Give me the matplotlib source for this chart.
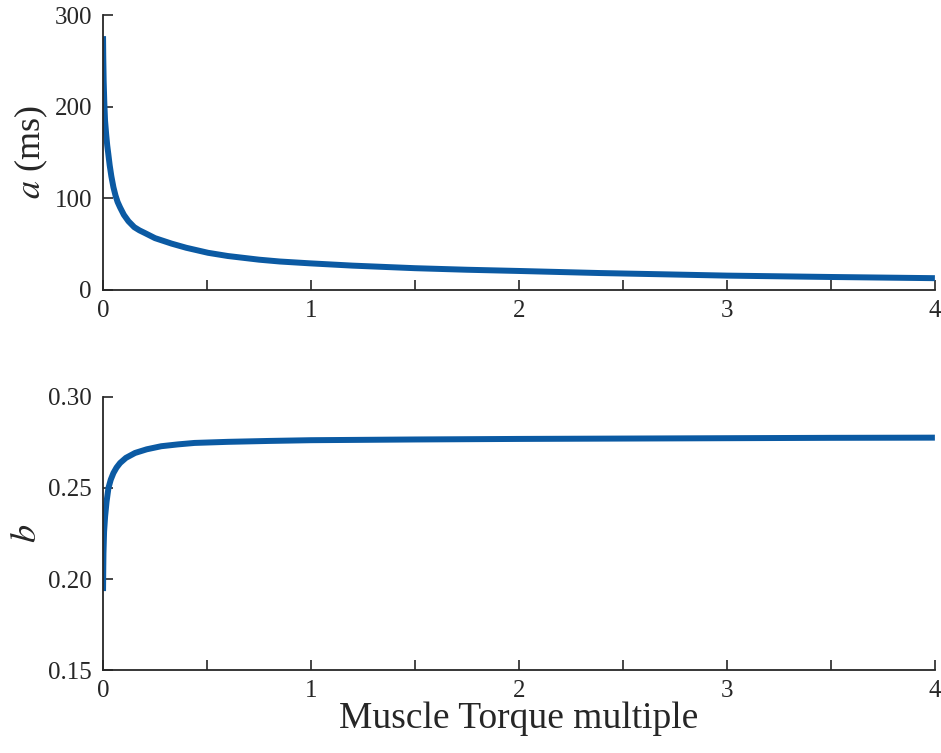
import numpy as np
import matplotlib
matplotlib.use("Agg")
import matplotlib.pyplot as plt
import matplotlib.ticker as ticker

# ── Data ─────────────────────────────────────────────────────────────────────
x_a = [0.0, 0.001, 0.003, 0.006, 0.0096, 0.015, 0.02, 0.025, 0.032, 0.04,
       0.05, 0.06, 0.07, 0.082, 0.1, 0.122, 0.15, 0.175, 0.202, 0.25, 0.33,
       0.4, 0.505, 0.6, 0.75, 0.85, 0.995, 1.2, 1.5, 1.75, 1.995, 2.39, 2.7,
       3.0, 3.5, 4.0]
a_ms = [277, 255, 228, 205, 185, 170, 158, 149, 136, 124,
        112, 103, 96, 90, 82, 75, 68.5, 65, 62, 56.5, 50.5,
        46, 40.5, 37, 33, 31, 29, 26.5, 23.7, 22, 20.7, 18.4, 17,
        15.6, 14.1, 12.8]

x_b = [0.0, 0.001, 0.002, 0.005, 0.01, 0.017, 0.026, 0.037, 0.05, 0.065,
       0.082, 0.11, 0.154, 0.21, 0.28, 0.36, 0.44, 0.6, 0.8, 1.0, 1.5,
       2.0, 2.5, 3.0, 3.5, 4.0]
b_val = [0.1934, 0.205, 0.214, 0.226, 0.2344, 0.2425, 0.250, 0.2545, 0.2582,
         0.2612, 0.2637, 0.2665, 0.2692, 0.2712, 0.2729, 0.2739, 0.2747,
         0.2753, 0.2758, 0.2762, 0.2766, 0.2769, 0.2771, 0.2773, 0.2775,
         0.2776]

LINE_COLOR = "#0b5aa3"
AX_COLOR = "#262626"

plt.rcParams["font.family"] = ["Liberation Serif", "DejaVu Serif"]
plt.rcParams["mathtext.fontset"] = "stix"

fig = plt.figure(figsize=(9.41, 7.53), dpi=100)
ax1 = fig.add_axes([0.1095, 0.615, 0.884, 0.365])
ax2 = fig.add_axes([0.1095, 0.110, 0.884, 0.363])

for ax in (ax1, ax2):
    for s in ("top", "right"):
        ax.spines[s].set_visible(False)
    for s in ("left", "bottom"):
        ax.spines[s].set_color(AX_COLOR)
        ax.spines[s].set_linewidth(1.3)
    ax.set_xlim(0, 4)
    ax.xaxis.set_major_locator(ticker.MultipleLocator(0.5))
    ax.xaxis.set_major_formatter(ticker.FuncFormatter(
        lambda v, p: f"{int(round(v))}" if abs(v - round(v)) < 1e-6 else ""))
    ax.tick_params(direction="in", length=7, width=1.2, colors=AX_COLOR,
                   labelsize=18)
    ax.tick_params(axis="x", pad=7)
    ax.tick_params(axis="y", pad=8)

ax1.plot(x_a, a_ms, color=LINE_COLOR, linewidth=4.3, solid_capstyle="butt",
         solid_joinstyle="round")
ax1.set_ylim(0, 300)
ax1.set_yticks([0, 100, 200, 300])
ax1.set_ylabel(r"$a$ (ms)", fontsize=26, color=AX_COLOR, labelpad=3)

ax2.plot(x_b, b_val, color=LINE_COLOR, linewidth=4.3, solid_capstyle="butt",
         solid_joinstyle="round")
ax2.set_ylim(0.15, 0.30)
ax2.set_yticks([0.15, 0.20, 0.25, 0.30])
ax2.yaxis.set_major_formatter(ticker.FormatStrFormatter("%.2f"))
ax2.set_ylabel(r"$b$", fontsize=26, color=AX_COLOR, labelpad=3)
ax2.set_xlabel("Muscle Torque multiple", fontsize=27, color=AX_COLOR, labelpad=0)

fig.savefig("out.png", dpi=100)
